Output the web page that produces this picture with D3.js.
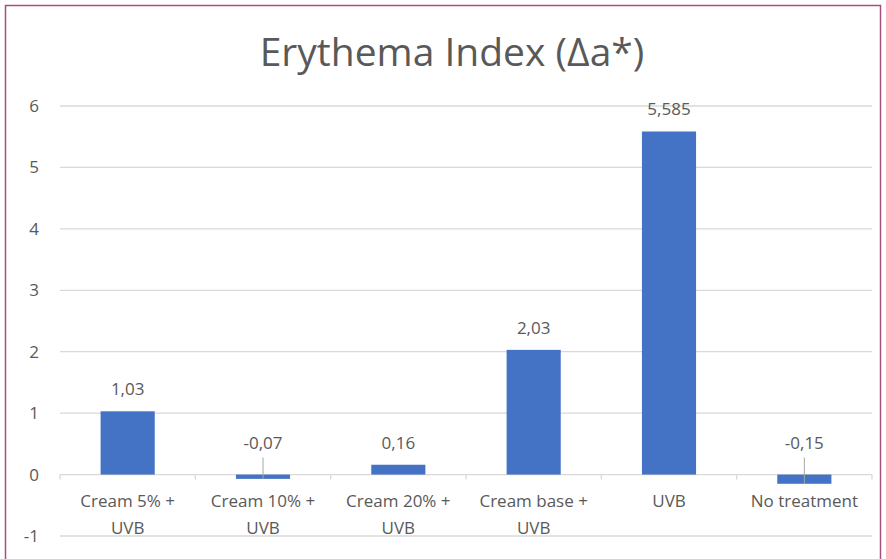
<!DOCTYPE html>
<meta charset="utf-8">
<script src="https://d3js.org/d3.v7.min.js"></script>
<style>
  body { margin: 0; background: #fff; }
  text { font-family: "Open Sans", sans-serif; fill: #595959; }
</style>
<div id="my_dataviz"></div>
<script>

// chart data
var categories = ["Cream 5% +|UVB", "Cream 10% +|UVB", "Cream 20% +|UVB", "Cream base +|UVB", "UVB", "No treatment"];
var values = [1.03, -0.07, 0.16, 2.03, 5.585, -0.15];
var labels = ["1,03", "-0,07", "0,16", "2,03", "5,585", "-0,15"];
var yTicks = [-1, 0, 1, 2, 3, 4, 5, 6];

var W = 886, H = 559;
var margin = {top: 106, right: 14, bottom: 23, left: 60},
    width = W - margin.left - margin.right,
    height = H - margin.top - margin.bottom;

var root = d3.select("#my_dataviz")
  .append("svg")
    .attr("width", W)
    .attr("height", H);

// outer frame
root.append("rect")
  .attr("x", 5.5).attr("y", 5.5)
  .attr("width", W - 11).attr("height", H + 10)
  .attr("fill", "none")
  .attr("stroke", "#a4507f")
  .attr("stroke-width", 1.5);

// title
root.append("text")
  .attr("x", 452).attr("y", 66)
  .attr("text-anchor", "middle")
  .attr("font-size", 39)
  .text("Erythema Index (\u0394a*)");

var svg = root.append("g")
  .attr("transform", "translate(" + margin.left + "," + margin.top + ")");

var x = d3.scaleBand()
  .domain(categories)
  .range([0, width])
  .paddingInner(0.6)
  .paddingOuter(0.3);

var y = d3.scaleLinear()
  .domain([-1, 6])
  .range([height, 0]);

// gridlines
svg.append("g")
  .selectAll("line")
  .data(yTicks)
  .enter().append("line")
    .attr("x1", 0).attr("x2", width)
    .attr("y1", function(d) { return y(d); })
    .attr("y2", function(d) { return y(d); })
    .attr("stroke", "#d9d9d9")
    .attr("stroke-width", 1.3);

// y labels
svg.append("g")
  .selectAll("text")
  .data(yTicks)
  .enter().append("text")
    .attr("x", -21)
    .attr("y", function(d) { return y(d); })
    .attr("dy", "0.35em")
    .attr("text-anchor", "end")
    .attr("font-size", 17)
    .text(function(d) { return d; });

// category boundary ticks on the zero line
var step = width / categories.length;
svg.append("g")
  .selectAll("line")
  .data(d3.range(categories.length + 1))
  .enter().append("line")
    .attr("x1", function(i) { return i * step; })
    .attr("x2", function(i) { return i * step; })
    .attr("y1", y(0)).attr("y2", y(0) + 5)
    .attr("stroke", "#d9d9d9")
    .attr("stroke-width", 1.3);

// bars
svg.append("g")
  .selectAll("rect")
  .data(values)
  .enter().append("rect")
    .attr("x", function(d, i) { return x(categories[i]); })
    .attr("width", x.bandwidth())
    .attr("y", function(d) { return y(Math.max(0, d)); })
    .attr("height", function(d) { return Math.abs(y(d) - y(0)); })
    .attr("fill", "#4472c4");

// value labels, with leader lines for the negative ones
var lab = svg.append("g");
values.forEach(function(d, i) {
  var cx = x(categories[i]) + x.bandwidth() / 2;
  var ty = d < 0 ? y(0) - 32 : y(d) - 22;
  lab.append("text")
    .attr("x", cx).attr("y", ty)
    .attr("dy", "0.35em")
    .attr("text-anchor", "middle")
    .attr("font-size", 17)
    .text(labels[i]);
  if (d < 0) {
    lab.append("line")
      .attr("x1", cx).attr("x2", cx)
      .attr("y1", ty + 15).attr("y2", y(d))
      .attr("stroke", "#a6a6a6")
      .attr("stroke-width", 1);
  }
});

// category labels
svg.append("g")
  .selectAll("text")
  .data(categories)
  .enter().append("text")
    .attr("x", function(d) { return x(d) + x.bandwidth() / 2; })
    .attr("y", y(0) + 32)
    .attr("text-anchor", "middle")
    .attr("font-size", 17)
    .each(function(d) {
      var parts = d.split("|");
      var t = d3.select(this);
      parts.forEach(function(p, k) {
        t.append("tspan")
          .attr("x", x(d) + x.bandwidth() / 2)
          .attr("dy", k === 0 ? 0 : 27)
          .text(p);
      });
    });

</script>
